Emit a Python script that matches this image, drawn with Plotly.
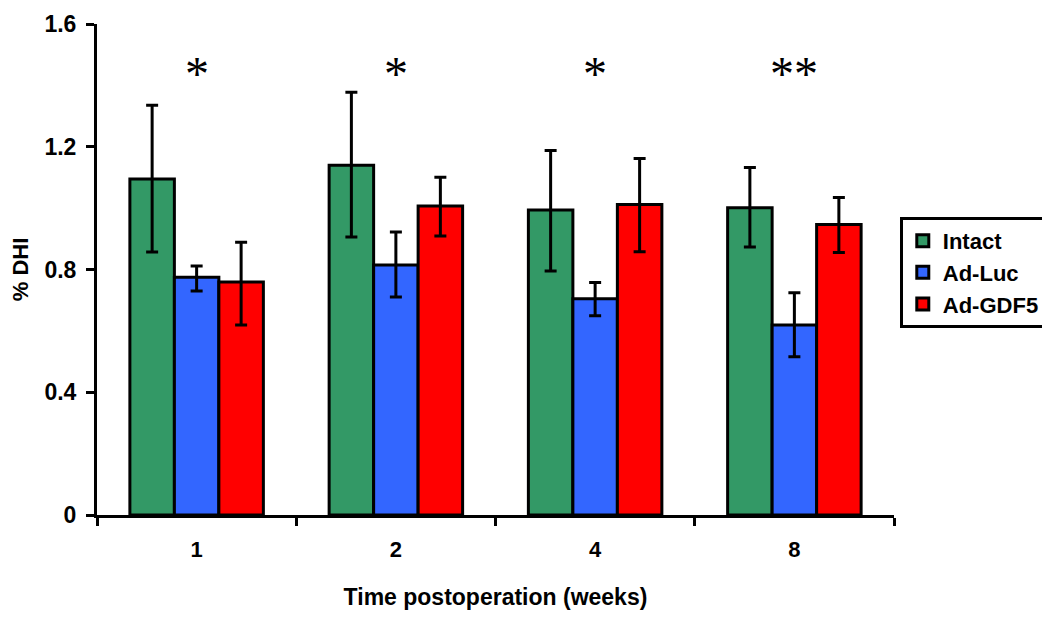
import plotly.graph_objects as go

weeks = ["1", "2", "4", "8"]
series_names = ["Intact", "Ad-Luc", "Ad-GDF5"]
colors = ["#339966", "#3366FF", "#FF0000"]

intact = [1.095, 1.140, 0.994, 1.001]
intact_up = [0.240, 0.238, 0.194, 0.131]
intact_dn = [0.238, 0.234, 0.199, 0.128]

adluc = [0.775, 0.815, 0.705, 0.619]
adluc_up = [0.036, 0.107, 0.053, 0.105]
adluc_dn = [0.045, 0.105, 0.056, 0.103]

adgdf5 = [0.759, 1.007, 1.012, 0.947]
adgdf5_up = [0.130, 0.094, 0.150, 0.088]
adgdf5_dn = [0.140, 0.098, 0.154, 0.092]

stars = ["*", "*", "*", "**"]
star_y = 1.44

values = [intact, adluc, adgdf5]
ups = [intact_up, adluc_up, adgdf5_up]
dns = [intact_dn, adluc_dn, adgdf5_dn]

font_family = "Liberation Sans, Arial, sans-serif"

fig = go.Figure()
for name, col, v, u, d in zip(series_names, colors, values, ups, dns):
    fig.add_trace(go.Bar(
        x=weeks, y=v, name=name,
        marker=dict(color=col, line=dict(color="black", width=3)),
        error_y=dict(type="data", array=u, arrayminus=d, symmetric=False,
                     color="black", thickness=3, width=6),
    ))

for i, s in enumerate(stars):
    fig.add_annotation(x=i, y=star_y, text=s, showarrow=False,
                       font=dict(family="Liberation Serif, Times New Roman, serif",
                                 size=48, color="black"),
                       yanchor="middle", xanchor="center")

fig.update_layout(
    width=1050, height=619,
    margin=dict(l=89, r=163, t=16, b=112),
    paper_bgcolor="white", plot_bgcolor="white",
    barmode="group", bargap=0.33, bargroupgap=0,
    font=dict(family=font_family, color="black"),
    legend=dict(x=1.006, y=0.607, xanchor="left", yanchor="top",
                bgcolor="white", bordercolor="black", borderwidth=3,
                font=dict(size=22, weight="bold", family=font_family),
                itemwidth=30, tracegroupgap=2),
    xaxis=dict(
        type="category", range=[-0.5, 3.5], automargin=False,
        showline=True, linecolor="black", linewidth=3,
        ticks="outside", tickson="boundaries", ticklen=8, tickwidth=3, tickcolor="black",
        tickfont=dict(size=22, weight="bold", family=font_family),
        ticklabelstandoff=13,
        showgrid=False, zeroline=False,
        title=dict(text="Time postoperation (weeks)", standoff=28,
                   font=dict(size=23, weight="bold", family=font_family)),
    ),
    yaxis=dict(
        range=[0, 1.6], tickvals=[0, 0.4, 0.8, 1.2, 1.6], automargin=False,
        ticktext=["0", "0.4", "0.8", "1.2", "1.6"],
        showline=True, linecolor="black", linewidth=3,
        ticks="outside", ticklen=8, tickwidth=3, tickcolor="black",
        tickfont=dict(size=23, weight="bold", family=font_family),
        ticklabelstandoff=5,
        showgrid=False, zeroline=False,
        title=dict(text="% DHI", standoff=14,
                   font=dict(size=22, weight="bold", family=font_family)),
    ),
    showlegend=True,
)

fig.write_html("out.html")
